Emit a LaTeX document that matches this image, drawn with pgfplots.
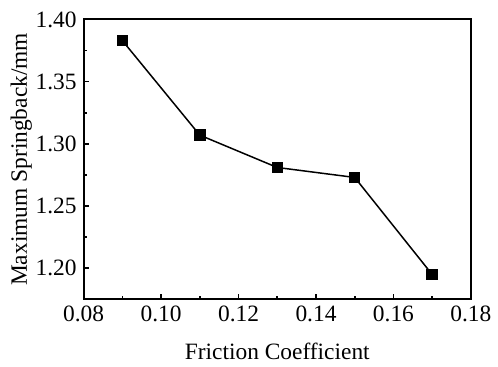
\documentclass[border=0pt]{standalone}
\usepackage{pgfplots}
\pgfplotsset{compat=1.18}
\usepackage{fontspec}
\setmainfont{Liberation Serif}
\begin{document}
\begin{tikzpicture}
\begin{axis}[
  scale only axis,
  width=194.5bp, height=140.6bp,
  xmin=0.08, xmax=0.18, ymin=1.175, ymax=1.40,
  xtick={0.08,0.10,...,0.18},
  ytick={1.20,1.25,...,1.40},
  minor x tick num=1, minor y tick num=1,
  tick pos=left,
  tick align=inside,
  major tick length=2.5bp, minor tick length=1.5bp,
  axis line style={line width=1bp},
  every tick/.style={line width=0.8bp, black},
  font=\fontsize{11.8}{14}\selectfont,
  /pgf/number format/assume math mode=true,
  xticklabel style={/pgf/number format/.cd, fixed, fixed zerofill, precision=2},
  yticklabel style={/pgf/number format/.cd, fixed, fixed zerofill, precision=2},
  scaled ticks=false,
  xlabel={Friction Coefficient},
  ylabel={Maximum Springback/mm},
  xlabel style={yshift=-3.5bp},
  ylabel style={yshift=-5bp},
]
\addplot[black, line width=0.75bp, mark=square*, mark size=2.5bp, mark options={solid}]
coordinates {(0.09,1.383) (0.11,1.307) (0.13,1.281) (0.15,1.273) (0.17,1.195)};
\end{axis}
\path ([shift={(-42bp,-32.15bp)}]current axis.south west) rectangle ([shift={(12.5bp,9.75bp)}]current axis.north east);
\end{tikzpicture}
\end{document}
